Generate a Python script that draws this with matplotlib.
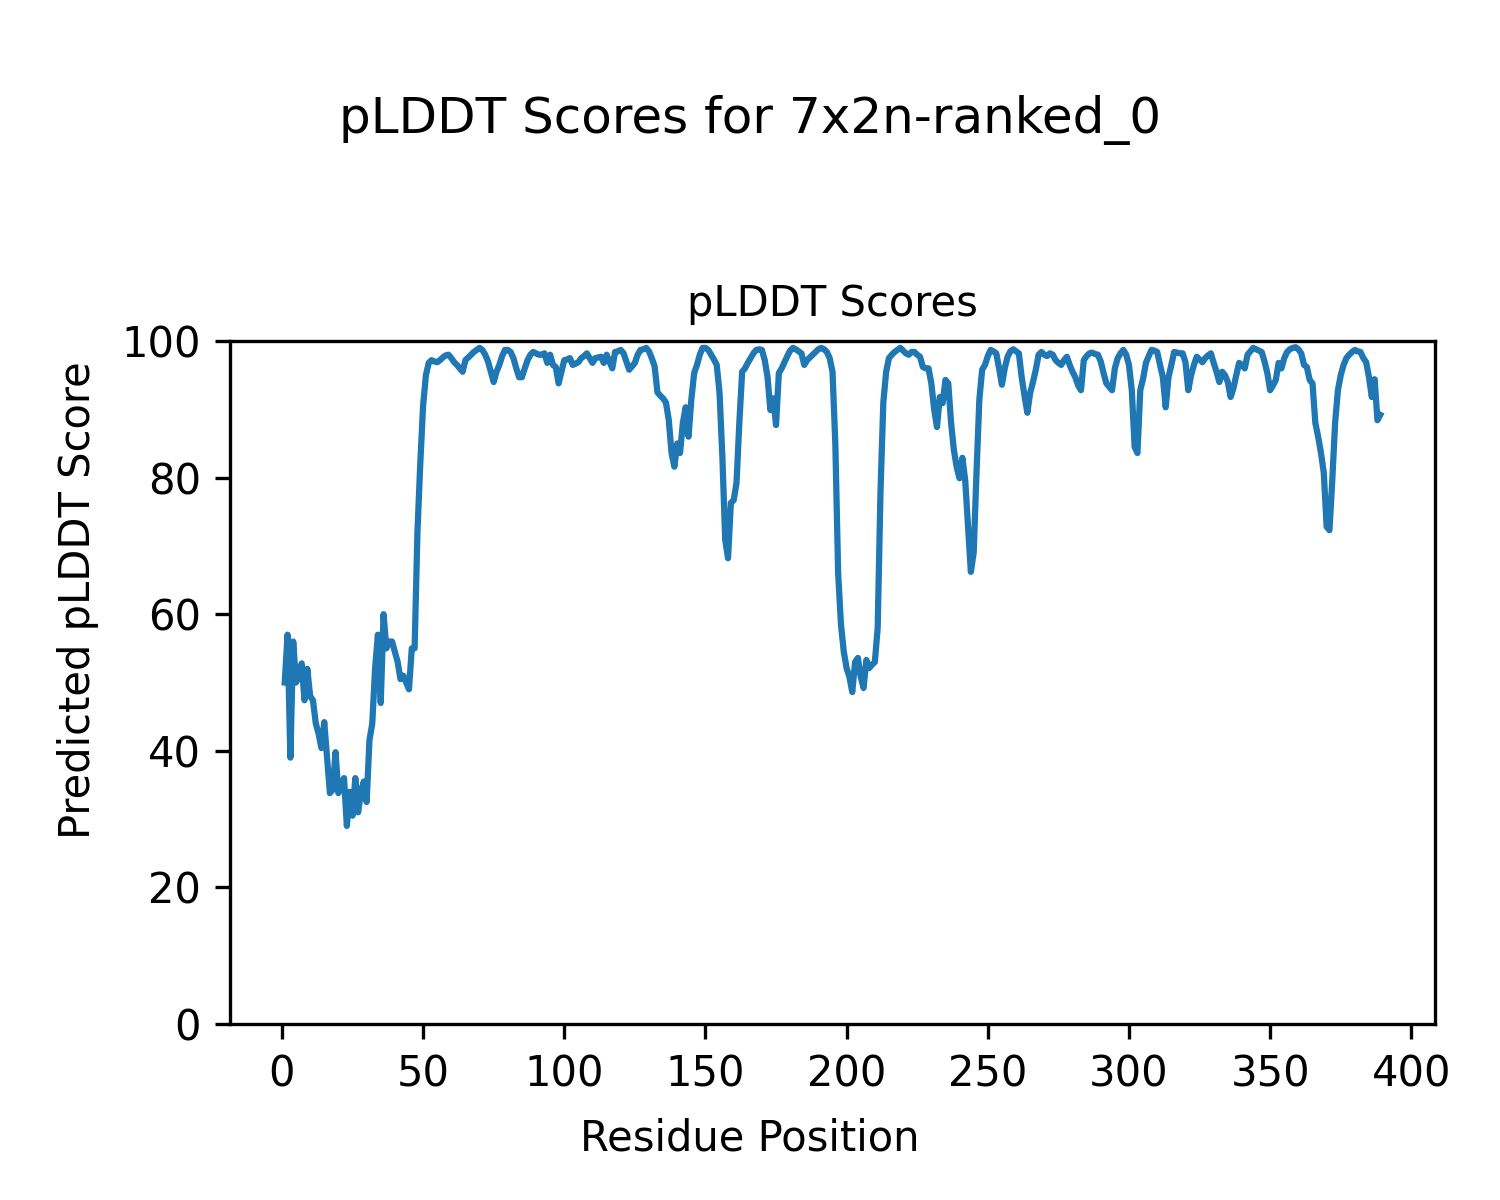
import matplotlib
matplotlib.use("Agg")
import matplotlib.pyplot as plt
import numpy as np

plddt = [
    50, 57, 39, 56, 50, 51, 52.8, 47.4, 52, 48,
    47.4, 44, 42.5, 40.4, 44.2, 39, 33.8, 34.3, 39.8, 33.8,
    35, 36, 29, 34, 30.5, 36, 31, 34, 35.5, 32.5,
    41.5, 44, 52, 57, 47, 60, 55, 56, 56, 54.5,
    53, 50.5, 51, 50, 49, 55, 55, 72, 82, 90.5,
    95.0, 96.8, 97.2, 97.0, 96.9, 97.2, 97.6, 97.9, 98.0, 97.5,
    96.9, 96.5, 96.0, 95.5, 97.2, 97.6, 98.0, 98.4, 98.7, 99.0,
    98.7, 98.0, 97.0, 95.5, 94.0, 95.5, 96.5, 97.8, 98.7, 98.7,
    98.4, 97.5, 96.0, 94.7, 94.7, 96.0, 97.2, 98.0, 98.4, 98.2,
    98.0, 98.0, 98.2, 96.8, 98.0, 96.5, 96.2, 93.8, 95.5, 97.2,
    97.3, 97.5, 96.5, 96.7, 96.9, 97.5, 97.8, 98.2, 97.5, 96.8,
    97.5, 97.6, 97.7, 96.8, 98.0, 97.0, 96.0, 98.4, 98.5, 98.7,
    98.2, 97.0, 95.8, 96.3, 96.8, 98.0, 98.7, 98.8, 99.0, 98.5,
    97.5, 96.3, 92.5, 92.0, 91.6, 91.0, 88.5, 83.6, 81.6, 85.0,
    83.6, 88.0, 90.3, 86.0, 91.4, 95.3, 96.5, 98.0, 99.0, 99.0,
    98.7, 98.0, 97.3, 96.5, 92.4, 83.0, 70.9, 68.2, 76.3, 76.7,
    79.2, 88.0, 95.5, 96.0, 96.8, 97.5, 98.2, 98.7, 98.8, 98.7,
    97.2, 94.7, 89.9, 91.6, 87.7, 95.3, 96.0, 96.9, 97.8, 98.6,
    99.0, 98.8, 98.5, 98.2, 96.5, 97.2, 97.6, 98.0, 98.4, 98.8,
    99.0, 98.8, 98.4, 97.5, 95.5, 85.0, 66.0, 58.5, 54.5, 52.1,
    50.8, 48.6, 53.0, 53.6, 50.8, 49.2, 53.3, 52.1, 52.6, 53.0,
    58.0, 78.0, 91.0, 95.5, 97.5, 98.0, 98.4, 98.7, 99.0, 98.6,
    98.2, 98.0, 98.4, 98.4, 98.0, 97.7, 96.2, 96.0, 96.0, 93.8,
    90.0, 87.4, 91.8, 90.9, 94.3, 93.8, 88.0, 84.0, 81.5, 79.9,
    82.9, 79.6, 72.8, 66.2, 69.0, 80.7, 91.4, 95.8, 96.5, 97.8,
    98.7, 98.5, 98.2, 96.0, 93.6, 96.0, 97.7, 98.5, 98.8, 98.5,
    98.2, 94.7, 92.0, 89.5, 92.4, 94.0, 95.8, 98.0, 98.4, 98.0,
    97.8, 98.2, 98.0, 97.2, 96.8, 96.5, 97.2, 97.7, 96.5, 95.5,
    94.7, 93.5, 92.8, 97.2, 97.8, 98.2, 98.3, 98.1, 98.0, 97.0,
    95.3, 93.8, 93.3, 92.8, 96.0, 97.5, 98.2, 98.7, 98.0, 96.5,
    92.8, 84.5, 83.6, 92.8, 94.5, 96.8, 97.8, 98.7, 98.6, 98.4,
    96.5, 94.7, 90.3, 94.7, 96.5, 98.4, 98.3, 98.2, 98.2, 96.9,
    92.8, 95.0, 96.5, 97.7, 97.3, 96.9, 97.5, 97.9, 98.2, 96.8,
    95.5, 94.0, 95.5, 95.0, 94.0, 91.8, 93.1, 95.0, 96.8, 96.5,
    96.0, 98.0, 98.5, 99.0, 98.8, 98.6, 98.4, 97.0, 95.3, 92.8,
    93.5, 94.3, 96.8, 96.0, 97.5, 98.4, 98.8, 99.0, 99.1, 98.8,
    98.2, 96.5, 96.2, 94.3, 93.8, 88.0, 86.0, 83.6, 80.7, 72.8,
    72.3, 79.6, 88.0, 92.8, 95.0, 96.5, 97.5, 98.0, 98.4, 98.7,
    98.5, 98.4, 97.5, 96.9, 94.7, 91.8, 94.4, 88.4, 89.2,
]
residues = list(range(1, len(plddt) + 1))

fig = plt.figure(figsize=(5, 4), dpi=300)
ax = fig.add_axes([0.1533, 0.1467, 0.8034, 0.5691])
ax.plot(residues, plddt, color="#1f77b4", linewidth=1.5)
ax.set_ylim(0, 100)
ax.set_title("pLDDT Scores", fontsize=10)
fig.supxlabel("Residue Position", fontsize=10, x=0.5, y=0.051, va="center")
fig.supylabel("Predicted pLDDT Score", fontsize=10, x=0.052, y=0.5, ha="center", va="center")
fig.suptitle("pLDDT Scores for 7x2n-ranked_0", fontsize=12, y=0.921)
fig.savefig("out.png", dpi=300)
